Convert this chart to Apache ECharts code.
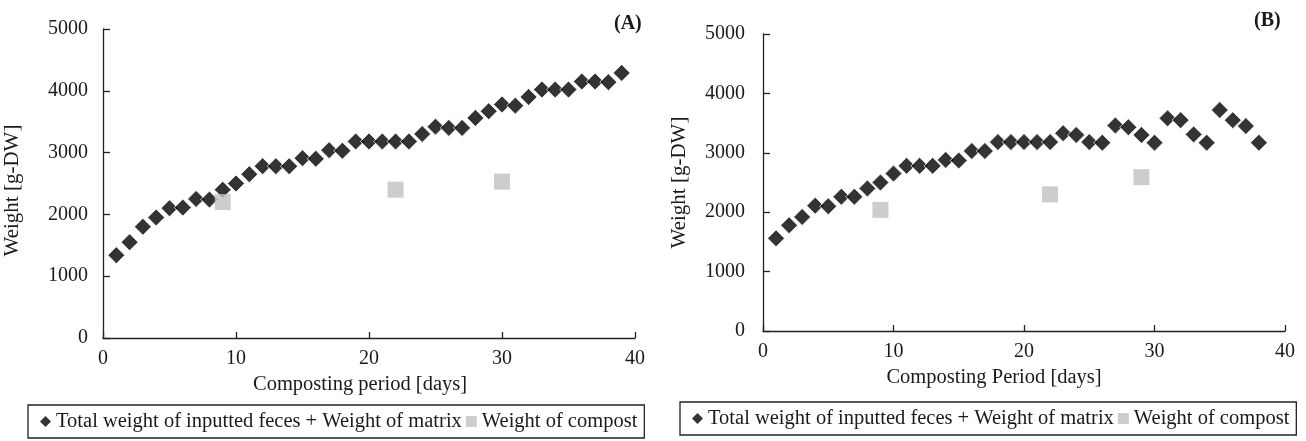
<!DOCTYPE html>
<html>
<head>
<meta charset="utf-8">
<script src="https://cdn.jsdelivr.net/npm/echarts@6/dist/echarts.min.js"></script>
<style>
  html, body { margin: 0; padding: 0; background: #fff; }
  #chart { width: 1306px; height: 441px; }
</style>
</head>
<body>
<div id="chart"></div>
<script>
// Composting days and weights [g-DW]
const daysA = [1,2,3,4,5,6,7,8,9,10,11,12,13,14,15,16,17,18,19,20,21,22,23,24,25,26,27,28,29,30,31,32,33,34,35,36,37,38,39];
const totalA = [1340,1550,1800,1950,2100,2110,2250,2240,2400,2500,2650,2780,2780,2780,2910,2900,3040,3030,3180,3180,3180,3180,3180,3300,3420,3400,3400,3560,3670,3780,3760,3900,4020,4020,4020,4150,4150,4140,4290];
const compostDaysA = [9, 22, 30];
const compostA = [2200, 2400, 2530];

const daysB = [1,2,3,4,5,6,7,8,9,10,11,12,13,14,15,16,17,18,19,20,21,22,23,24,25,26,27,28,29,30,31,32,33,34,35,36,37,38];
const totalB = [1560,1780,1920,2110,2100,2260,2260,2400,2500,2650,2780,2780,2780,2880,2870,3030,3030,3180,3180,3180,3180,3180,3330,3300,3180,3170,3460,3430,3300,3170,3580,3550,3310,3170,3720,3550,3450,3170];
const compostDaysB = [9, 22, 29];
const compostB = [2040, 2300, 2590];

const yTicks = [0, 1000, 2000, 3000, 4000, 5000];
const xTicks = [0, 10, 20, 30, 40];

const NAME_TOTAL = 'Total weight of inputted feces + Weight of matrix';
const NAME_COMPOST = 'Weight of compost';
const FONT = '"Liberation Serif", "Times New Roman", serif';
const TEXT = '#1a1a1a';

const pair = (xs, ys) => xs.map((x, i) => [x, ys[i]]);

function xAxis(gridIndex, title, pad) {
  return {
    type: 'value', gridIndex,
    min: xTicks[0], max: xTicks[xTicks.length - 1], interval: 10,
    name: title, nameLocation: 'middle', nameGap: 31,
    nameTextStyle: { fontFamily: FONT, fontSize: 20.5, color: TEXT, padding: pad },
    axisLine: { lineStyle: { color: '#222', width: 1.3 } },
    axisTick: { inside: true, length: 6, lineStyle: { color: '#222', width: 1.3 } },
    axisLabel: { fontFamily: FONT, fontSize: 20, color: TEXT, margin: 11 },
    splitLine: { show: false }
  };
}
function yAxis(gridIndex, gap, margin, pad) {
  return {
    type: 'value', gridIndex,
    min: yTicks[0], max: yTicks[yTicks.length - 1], interval: 1000,
    name: 'Weight [g-DW]', nameLocation: 'middle', nameGap: gap,
    nameTextStyle: { fontFamily: FONT, fontSize: 21, color: TEXT, padding: pad },
    axisLine: { show: true, lineStyle: { color: '#222', width: 1.3 } },
    axisTick: { show: true, inside: true, length: 7, lineStyle: { color: '#222', width: 1.3 } },
    axisLabel: { fontFamily: FONT, fontSize: 20, color: TEXT, margin, formatter: v => String(v) },
    splitLine: { show: false }
  };
}
function legend(left, top) {
  return {
    left, top,
    orient: 'horizontal',
    data: [
      { name: NAME_TOTAL, icon: 'diamond', itemStyle: { color: '#000', borderWidth: 0 } },
      { name: NAME_COMPOST, icon: 'rect', itemStyle: { color: '#c0c0c0', borderWidth: 0 } }
    ],
    itemWidth: 11, itemHeight: 11, itemGap: 4,
    padding: [6, 7, 6, 12],
    borderColor: '#222', borderWidth: 1.3,
    textStyle: { fontFamily: FONT, fontSize: 20.5, color: TEXT },
    selectedMode: false
  };
}
function totalSeries(idx, data) {
  return {
    name: NAME_TOTAL, type: 'scatter', xAxisIndex: idx, yAxisIndex: idx,
    symbol: 'diamond', symbolSize: 17, data,
    itemStyle: { color: '#000', borderColor: '#fff', borderWidth: 1 }
  };
}
function compostSeries(idx, data) {
  return {
    name: NAME_COMPOST, type: 'scatter', xAxisIndex: idx, yAxisIndex: idx,
    symbol: 'rect', symbolSize: 16, data,
    itemStyle: { color: '#c0c0c0' }
  };
}

const chart = echarts.init(document.getElementById('chart'), null, { renderer: 'canvas' });
chart.setOption({
  animation: false,
  backgroundColor: '#fff',
  title: [
    { text: '(A)', left: 609, top: 9, textStyle: { fontFamily: FONT, fontSize: 20, fontWeight: 'bold', color: TEXT } },
    { text: '(B)', left: 1249, top: 6, textStyle: { fontFamily: FONT, fontSize: 20, fontWeight: 'bold', color: TEXT } }
  ],
  grid: [
    { left: 103, top: 29, width: 532, height: 309 },
    { left: 763, top: 34, width: 522, height: 297 }
  ],
  xAxis: [
    xAxis(0, 'Composting period [days]', [0, 18, 0, 0]),
    xAxis(1, 'Composting Period [days]', [0, 60, 0, 0])
  ],
  yAxis: [yAxis(0, 80, 15, [0, 14, 0, 0]), yAxis(1, 73, 18, 0)],
  legend: [legend(28, 405), legend(680, 402)],
  series: [
    totalSeries(0, pair(daysA, totalA)),
    compostSeries(0, pair(compostDaysA, compostA)),
    totalSeries(1, pair(daysB, totalB)),
    compostSeries(1, pair(compostDaysB, compostB))
  ]
});
</script>
</body>
</html>
